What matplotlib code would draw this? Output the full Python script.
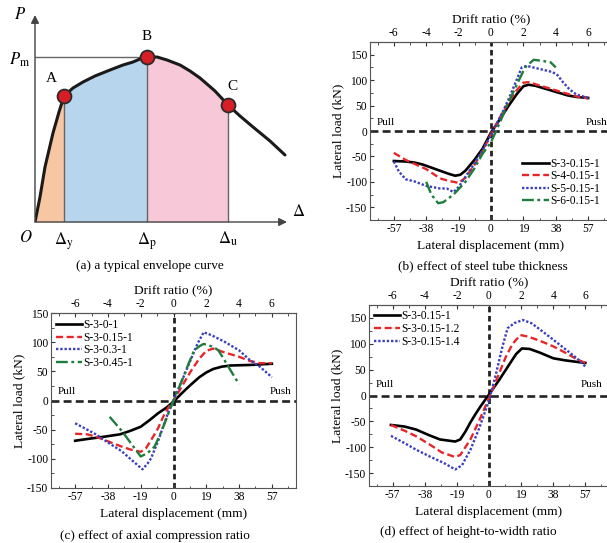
import matplotlib
matplotlib.use('Agg')
import matplotlib.pyplot as plt
from matplotlib.ticker import MultipleLocator

plt.rcParams['font.family'] = ['Liberation Serif', 'DejaVu Serif']
plt.rcParams['mathtext.fontset'] = 'stix'
plt.rcParams['axes.unicode_minus'] = False

W, H = 607, 543

# (a) schematic envelope curve (arbitrary units)
env_d = [0, 5, 10, 18, 24, 29, 38, 48, 60, 75, 88, 98, 105, 112, 122, 132, 145, 155, 165, 180, 193, 205, 218, 235, 250]
env_p = [0, 25, 55, 89, 110, 126, 134, 140, 146, 152, 157, 160, 163, 165, 165, 162, 157, 151, 144, 131, 117, 106, 95, 81, 67]
iA, iB, iC = 5, 13, 20
pt_labels = ['A', 'B', 'C']
d_labels = [r'$\Delta_{\mathrm{y}}$', r'$\Delta_{\mathrm{p}}$', r'$\Delta_{\mathrm{u}}$']

# (b) steel tube thickness
b_names = ['S-3-0.15-1', 'S-4-0.15-1', 'S-5-0.15-1', 'S-6-0.15-1']
b_x = [
    [-57, -50, -45, -40, -35, -30, -25, -21, -18, -15, -10, -5, 0, 5, 10, 15, 19, 22, 26, 30, 35, 40, 45, 50, 57],
    [-57, -50, -46, -38, -30, -25, -19, -15, -10, -5, 0, 5, 10, 15, 19, 22, 26, 30, 35, 40, 45, 50, 57],
    [-57, -54, -50, -45, -38, -30, -26, -22, -19, -15, -10, -5, 0, 5, 10, 15, 18, 21, 26, 31, 36, 39, 42, 46, 50, 57],
    [-38, -35, -31, -28, -22, -15, -10, -5, 0, 5, 10, 15, 20, 25, 30, 35, 38],
]
b_y = [
    [-59, -60, -62, -66, -72, -78, -84, -88, -86, -78, -58, -35, -3, 22, 48, 72, 88, 91, 89, 85, 80, 75, 70, 67, 65],
    [-43, -57, -63, -75, -93, -98, -102, -92, -68, -40, -6, 25, 55, 80, 95, 96, 92, 88, 83, 78, 73, 68, 64],
    [-60, -80, -95, -99, -108, -113, -113, -120, -110, -90, -65, -38, -8, 25, 60, 100, 125, 128, 124, 120, 116, 110, 97, 82, 72, 65],
    [-100, -125, -142, -140, -125, -100, -75, -45, -22, 15, 55, 90, 125, 140, 138, 135, 125],
]

# (c) axial compression ratio
c_names = ['S-3-0-1', 'S-3-0.15-1', 'S-3-0.3-1', 'S-3-0.45-1']
c_x = [
    [-57, -50, -40, -31, -25, -19, -14, -9, -4, 0, 5, 10, 15, 19, 23, 28, 33, 45, 57],
    [-57, -50, -45, -38, -30, -25, -19, -16, -13, -9, -6, -3, 0, 5, 10, 15, 19, 23, 30, 38, 44, 50, 57],
    [-57, -50, -45, -38, -30, -25, -18, -15, -13, -9, -6, -3, 0, 5, 10, 14, 17.5, 22, 30, 38, 44, 50, 57],
    [-37, -30, -25, -19, -15, -11, -8, -5, -2, 0, 5, 9, 12, 15, 17.5, 23, 26, 29, 33, 38],
]
c_y = [
    [-69, -66, -62, -58, -52, -45, -34, -22, -12, -2, 13, 27, 40, 48, 54, 58, 60, 61, 63],
    [-57, -58, -62, -70, -79, -84, -88, -82, -68, -48, -28, -12, 0, 25, 50, 72, 85, 89, 82, 75, 68, 64, 64],
    [-39, -50, -58, -72, -87, -100, -118, -108, -99, -70, -45, -20, 0, 35, 70, 98, 117, 112, 100, 86, 70, 58, 40],
    [-28, -52, -72, -96, -90, -79, -60, -38, -15, 0, 35, 65, 86, 93, 97, 92, 86, 72, 52, 28],
]

# (d) height-to-width ratio
d_names = ['S-3-0.15-1', 'S-3-0.15-1.2', 'S-3-0.15-1.4']
d_x = [
    [-58, -50, -43, -36, -29, -20, -17, -14, -11, -8, -5, 0, 6, 12, 16, 19.5, 24, 30, 38, 45, 52, 57],
    [-58, -50, -43, -35, -28, -20, -17, -14, -11, -6, 0, 5, 10, 14, 18.5, 23, 30, 38, 45, 52, 57],
    [-58, -50, -43, -35, -27, -20, -16, -11, -6, 0, 4, 8, 11, 15, 20, 25, 30, 38, 45, 52, 57],
]
d_y = [
    [-57, -60, -66, -76, -85, -89, -85, -70, -52, -36, -21, 2, 30, 60, 80, 91, 90, 83, 72, 68, 65, 63],
    [-57, -68, -79, -95, -110, -119, -115, -100, -85, -50, -5, 35, 75, 100, 117, 114, 106, 95, 83, 70, 63],
    [-78, -92, -105, -118, -130, -143, -135, -105, -65, -10, 40, 95, 130, 140, 146, 140, 128, 108, 90, 72, 56],
]

styles = [
    dict(color='black', ls='-', lw=1.9),
    dict(color='#e8262a', ls=(0, (3, 1.5)), lw=1.7),
    dict(color='#3b3fbf', ls=(0, (1, 0.8)), lw=1.7),
    dict(color='#1e7d3c', ls=(0, (5, 1.5, 1.2, 1.5)), lw=1.7),
]

fig = plt.figure(figsize=(W / 100, H / 100), dpi=100)


def px_axes(left, top, right, bottom):
    return fig.add_axes([left / W, 1 - bottom / H, (right - left) / W, (bottom - top) / H])


# ---- panel (a)
ax = px_axes(35, 15, 287, 222)
ax.set_xlim(0, 252)
ax.set_ylim(0, 207)
ax.axis('off')
ax.fill_between(env_d[:iA + 1], env_p[:iA + 1], color='#f7c6a3', lw=0)
ax.fill_between(env_d[iA:iB + 1], env_p[iA:iB + 1], color='#b8d5ee', lw=0)
ax.fill_between(env_d[iB:iC + 1], env_p[iB:iC + 1], color='#f6c8d8', lw=0)
for i in (iA, iB, iC):
    ax.plot([env_d[i], env_d[i]], [0, env_p[i]], color='#666666', lw=1)
ax.plot([0, env_d[iB]], [env_p[iB], env_p[iB]], color='#666666', lw=1)
ax.plot(env_d, env_p, color='#1a1a1a', lw=2.2, solid_capstyle='round')
ax.annotate('', xy=(252, 0), xytext=(0, 0), annotation_clip=False,
            arrowprops=dict(arrowstyle='-|>', color='#444444', lw=1, mutation_scale=12, shrinkA=0, shrinkB=0))
ax.annotate('', xy=(0, 207), xytext=(0, 0), annotation_clip=False,
            arrowprops=dict(arrowstyle='-|>', color='#444444', lw=1, mutation_scale=12, shrinkA=0, shrinkB=0))
for k, i in enumerate((iA, iB, iC)):
    ax.plot(env_d[i], env_p[i], 'o', ms=10, mfc='#d81e25', mec='#2a2a2a', mew=1.3, clip_on=False)
    ax.text(env_d[i], -8, d_labels[k], ha='center', va='top', fontsize=12)
ax.text(env_d[iA] - 13, env_p[iA] + 18, pt_labels[0], ha='center', va='center', fontsize=11)
ax.text(env_d[iB], env_p[iB] + 20, pt_labels[1], ha='center', va='center', fontsize=11)
ax.text(env_d[iC] + 4, env_p[iC] + 19, pt_labels[2], ha='center', va='center', fontsize=11)
ax.text(-9, -8, '$O$', ha='center', va='top', fontsize=12)
ax.text(-15, 207, '$P$', ha='center', va='center', fontsize=12)
ax.text(-15, env_p[iB] - 3, r'$P_{\mathrm{m}}$', ha='center', va='center', fontsize=12)
ax.text(264, 10, r'$\Delta$', ha='center', va='center', fontsize=12)
fig.text(150 / W, 1 - 266 / H, '(a) a typical envelope curve', ha='center', va='center', fontsize=9.5)


def hysteresis_panel(ax, xs, ys, names, ylim, leg_anchor, push_x, pull_y, n_items):
    ax.set_xlim(-71, 71)
    ax.set_ylim(*ylim)
    ax.axhline(0, color='#222222', ls=(0, (3, 1.6)), lw=1.9, zorder=1)
    ax.axvline(0, color='#222222', ls=(0, (2, 1.3)), lw=2.0, zorder=1)
    for k in range(n_items):
        ax.plot(xs[k], ys[k], label=names[k], zorder=3, **styles[k])
    ax.set_xticks([-57, -38, -19, 0, 19, 38, 57])
    ax.xaxis.set_minor_locator(MultipleLocator(9.5))
    ax.set_yticks([-150, -100, -50, 0, 50, 100, 150])
    ax.yaxis.set_minor_locator(MultipleLocator(25))
    ax.tick_params(which='both', direction='in', labelsize=8.3, colors='#333333', labelcolor='black', pad=2)
    ax.tick_params(which='major', length=3)
    ax.tick_params(which='minor', length=1.8)
    for s in ax.spines.values():
        s.set_color('#555555')
        s.set_linewidth(0.8)
    ax.set_xlabel('Lateral displacement (mm)', fontsize=9.7, labelpad=4)
    ax.set_ylabel('Lateral load (kN)', fontsize=9.7, labelpad=1)
    top = ax.secondary_xaxis('top', functions=(lambda x: x / 9.5, lambda d: d * 9.5))
    top.set_xticks([-6, -4, -2, 0, 2, 4, 6])
    top.xaxis.set_minor_locator(MultipleLocator(1))
    top.tick_params(which='both', direction='in', labelsize=8.3, colors='#333333', labelcolor='black', pad=2)
    top.tick_params(which='major', length=3)
    top.tick_params(which='minor', length=1.8)
    top.spines['top'].set_color('#555555')
    top.set_xlabel('Drift ratio (%)', fontsize=9.7, labelpad=3)
    ax.text(-67, pull_y, 'Pull', fontsize=8, va='center', ha='left')
    ax.text(push_x, pull_y, 'Push', fontsize=8, va='center', ha='left', clip_on=False)
    ax.legend(loc='upper left', bbox_to_anchor=leg_anchor, frameon=False, fontsize=8.3,
              handlelength=2.3, handletextpad=0.1, labelspacing=0.05, borderpad=0, borderaxespad=0)


# ---- panel (b)
ax = px_axes(370, 42, 612, 220)
hysteresis_panel(ax, b_x, b_y, b_names, (-175, 175), (0.63, 0.35), 55.5, 17, 4)
fig.text(483 / W, 1 - 266 / H, '(b) effect of steel tube thickness', ha='center', va='center', fontsize=9.5)

# ---- panel (c)
ax = px_axes(51, 313, 296, 488)
hysteresis_panel(ax, c_x, c_y, c_names, (-150, 150), (0.02, 0.965), 56, 15, 4)
fig.text(155 / W, 1 - 536 / H, '(c) effect of axial compression ratio', ha='center', va='center', fontsize=9.5)

# ---- panel (d)
ax = px_axes(369, 305, 609, 486)
hysteresis_panel(ax, d_x, d_y, d_names, (-175, 175), (0.02, 0.97), 54, 22, 3)
fig.text(468 / W, 1 - 532 / H, '(d) effect of height-to-width ratio', ha='center', va='center', fontsize=9.5)

fig.savefig('out.png', dpi=100)
